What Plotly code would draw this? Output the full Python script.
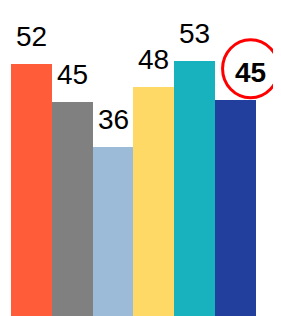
import plotly.graph_objects as go

categories = ["A", "B", "C", "D", "E", "F"]
values = [52.2, 44.7, 36.0, 47.8, 52.9, 45.2]
labels = ["52", "45", "36", "48", "53", "45"]
colors = ["#FF5C3A", "#808080", "#9BBBD8", "#FFD966", "#17B2BE", "#233F9E"]
highlight_index = 5

fig = go.Figure()
fig.add_trace(go.Bar(
    x=categories, y=values,
    marker=dict(color=colors, line=dict(width=0)),
    hoverinfo="skip",
))

annotations = []
for i, (c, v, t) in enumerate(zip(categories, values, labels)):
    hl = i == highlight_index
    annotations.append(dict(
        x=c, y=v, xref="x", yref="y",
        text=f"<b>{t}</b>" if hl else t,
        showarrow=False, yanchor="bottom",
        yshift=10, xshift=15 if hl else 0,
        font=dict(family="Liberation Sans, Arial, sans-serif", size=28, color="#000000"),
    ))

fig.add_shape(
    type="circle", xref="x", yref="y",
    xsizemode="pixel", ysizemode="pixel",
    xanchor=categories[highlight_index], yanchor=values[highlight_index],
    x0=15 - 28, x1=15 + 28, y0=31 - 29, y1=31 + 29,
    line=dict(color="#FF0000", width=3),
)

fig.update_layout(
    width=273, height=308,
    margin=dict(l=3, r=0, t=0, b=0),
    paper_bgcolor="white", plot_bgcolor="white",
    bargap=0, showlegend=False,
    annotations=annotations,
    xaxis=dict(visible=False, range=[-0.5, 6.113]),
    yaxis=dict(visible=False, range=[2.8, 63.2]),
)

fig.write_html("out.html", config={"displayModeBar": False})
